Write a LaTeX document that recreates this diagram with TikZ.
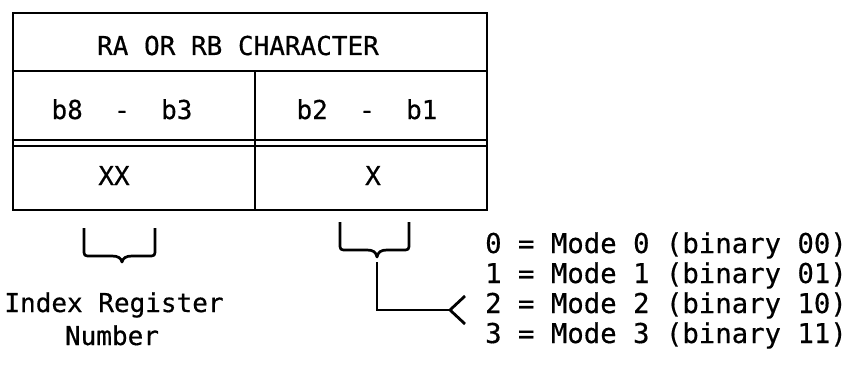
\documentclass[tikz,border=0pt]{standalone}
\usepackage{fontspec}
\newfontfamily\plotfont{DejaVu Sans Mono}[FakeBold=0.5]
\begin{document}
\begin{tikzpicture}[x=1pt,y=-1pt,
  rule/.style={line width=2.9pt},
  thinrule/.style={line width=1.8pt},
  bracepath/.style={line width=2.7pt, line join=round},
  link/.style={line width=2.8pt, line join=miter},
  celltext/.style={font=\plotfont\fontsize{26}{30}\selectfont, inner sep=0pt, anchor=base},
  modetext/.style={font=\plotfont\fontsize{27.3}{30}\selectfont, inner sep=0pt, anchor=base west},
  labeltext/.style={font=\plotfont\fontsize{26}{35}\selectfont, inner sep=0pt, anchor=base}]
\useasboundingbox (0,0) rectangle (853,377);

% format table
\draw[rule] (13,13) rectangle (487,210);
\draw[rule] (13,71) -- (487,71);
\draw[thinrule] (13,140) -- (487,140);
\draw[rule] (13,146) -- (487,146);
\draw[rule] (255,71) -- (255,210);

\node[celltext] (title) at (238,55) {RA OR RB CHARACTER};
\node[celltext] (hi) at (122,119) {b8\ \ -\ \ b3};
\node[celltext] (lo) at (367,119) {b2\ \ -\ \ b1};
\node[celltext] (xx) at (114,185) {XX};
\node[celltext] (x) at (373,185) {X};

% brace under the index field
\draw[bracepath] (84,228) -- (84,249) .. controls (84,256) .. (91,256) -- (112,256)
  .. controls (118,256) and (121,258) .. (122,262)
  .. controls (123,258) and (126,256) .. (132,256) -- (148,256)
  .. controls (155,256) .. (155,249) -- (155,228);
\coordinate (lb) at (122,262);

% brace under the mode field
\draw[bracepath] (340,222) -- (340,243) .. controls (340,250) .. (347,250) -- (367,250)
  .. controls (373,250) and (376,252) .. (377,257)
  .. controls (378,252) and (381,250) .. (387,250) -- (402,250)
  .. controls (409,250) .. (409,243) -- (409,222);
\coordinate (rb) at (377,257);

\node[labeltext] (idx) at (114,312) {Index Register};
\node[labeltext] (num) at (112,345) {Number};

% connector to the mode list
\coordinate (fork) at (450,310);
\draw[link, shorten <=5pt] (rb) -- (rb |- fork) -- (fork);
\draw[link] (465,296) -- (fork) -- (465,324);

\node[modetext] (m0) at (485,253) {0 = Mode 0 (binary 00)};
\node[modetext] (m1) at (485,283) {1 = Mode 1 (binary 01)};
\node[modetext] (m2) at (485,313) {2 = Mode 2 (binary 10)};
\node[modetext] (m3) at (485,343) {3 = Mode 3 (binary 11)};
\end{tikzpicture}
\end{document}
